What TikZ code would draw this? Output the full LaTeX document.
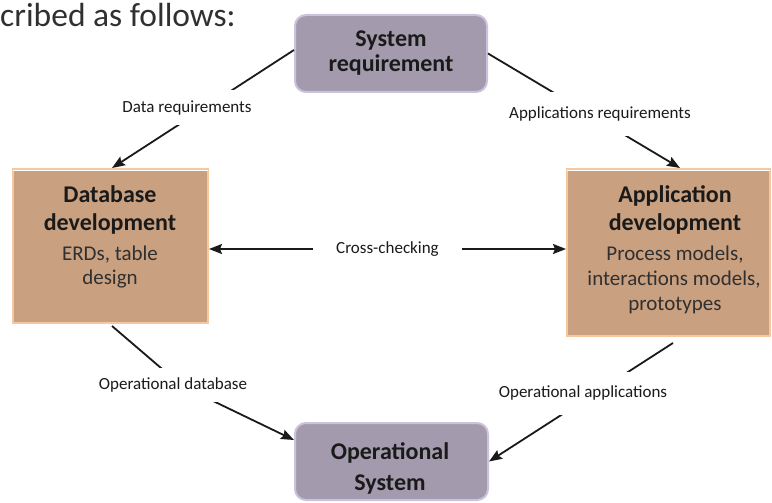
\documentclass[tikz,border=0pt]{standalone}
\usepackage{fontspec}
\setmainfont{Carlito}
\usetikzlibrary{arrows.meta}

\definecolor{stagefill}{HTML}{A39BAD}
\definecolor{stageedge}{HTML}{CDC2DC}
\definecolor{devfill}{HTML}{C9A080}
\definecolor{devedge}{HTML}{F5C8A0}
\definecolor{ink}{HTML}{1A1A1A}
\definecolor{softink}{HTML}{303030}

\begin{document}
\begin{tikzpicture}[x=1pt,y=-1pt,
  stage/.style={draw=stageedge, fill=stagefill, line width=2pt,
    rounded corners=11pt, minimum width=192pt, minimum height=77pt, inner sep=0pt},
  devbox/.style={draw=devedge, fill=devfill, line width=2pt, inner sep=0pt},
  head/.style={font=\fontsize{24}{24}\selectfont\bfseries, text=ink, anchor=base, inner sep=0pt},
  body/.style={font=\fontsize{21}{21}\selectfont, text=softink, anchor=base, inner sep=0pt},
  flowlab/.style={font=\fontsize{17}{17}\selectfont, text=ink, fill=white, inner xsep=2pt},
  link/.style={line width=1.8pt, draw=ink},
  tip/.style={-{Stealth[length=13pt,width=10pt,inset=2pt]}},
  twotip/.style={{Stealth[length=13pt,width=10pt,inset=2pt]}-{Stealth[length=13pt,width=10pt,inset=2pt]}}
]
\useasboundingbox (0,0) rectangle (772,503);

% lead-in text
\node[font=\fontsize{33.5}{33.5}\selectfont, text=softink, anchor=base west, inner sep=0pt]
  (intro) at (0,27) {cribed as follows:};

% the four stages
\node[stage] (sys) at (391,53.5) {};
\node[stage, minimum width=193pt] (ops) at (391.5,461.5) {};
\node[devbox, minimum width=195pt, minimum height=154pt] (db) at (110.5,246) {};
\node[devbox, minimum width=203pt, minimum height=167pt] (app) at (668.5,252.5) {};

% highlight along the top of the development boxes
\draw[white, line width=1.2pt] ([xshift=1pt,yshift=-2.2pt]db.north west) -- ([xshift=-1pt,yshift=-2.2pt]db.north east);
\draw[white, line width=1.2pt] ([xshift=1pt,yshift=-2.2pt]app.north west) -- ([xshift=-1pt,yshift=-2.2pt]app.north east);

% box texts
\node[head] (sysA) at (391,47) {System};
\node[head] (sysB) at (391,72) {requirement};
\node[head] (opsA) at (390,459) {Operational};
\node[head] (opsB) at (390,490) {System};

\node[head] (dbA) at (110,202) {Database};
\node[head] (dbB) at (110,230) {development};
\node[body] (dbC) at (110,260) {ERDs, table};
\node[body] (dbD) at (110,284) {design};

\node[head] (appA) at (675,202) {Application};
\node[head] (appB) at (675,230) {development};
\node[body] (appC) at (675,260) {Process models,};
\node[body] (appD) at (674,285) {interactions models,};
\node[body] (appE) at (675,310) {prototypes};

% connectors
\draw[link, tip] ([yshift=3.5pt]sys.west) -- ([xshift=1.5pt]db.north);
\draw[link, tip] (sys.east) -- ([xshift=11.5pt]app.north);
\coordinate (bend) at (182,386);
\draw[link, tip] ([xshift=1.5pt,yshift=-2pt]db.south) -- (bend) -- ([yshift=21.5pt]ops.west);
\draw[link, tip] ([xshift=4.5pt,yshift=-6pt]app.south) -- (ops.east);
\draw[link, twotip] (db.east |- 0,249) -- (app.west |- 0,249);

% connector labels
\node[flowlab, minimum height=35pt] (dreq) at (187,108) {Data requirements};
\node[flowlab, minimum height=44pt] (areq) at (600,114) {Applications requirements};
\node[flowlab, minimum height=34pt] (odb) at (173,385) {Operational database};
\node[flowlab, minimum height=43pt] (oapp) at (583,393) {Operational applications};
\node[flowlab, minimum width=149pt] (xchk) at (387.5,249) {Cross-checking};
\end{tikzpicture}
\end{document}
